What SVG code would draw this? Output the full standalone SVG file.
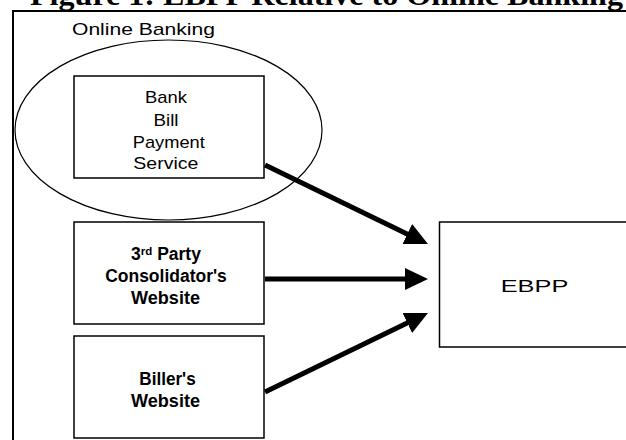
<svg xmlns="http://www.w3.org/2000/svg" width="626" height="440" viewBox="0 0 626 440">
  <style>
    .box { fill: #ffffff; stroke: #000000; stroke-width: 1.5; }
    .lbl { font-family: "Liberation Sans", Arial, sans-serif; font-size: 17px; fill: #000000; text-anchor: middle; }
    .bold { font-weight: bold; font-size: 17.5px; }
    .conn { stroke: #000000; stroke-width: 5; fill: none; }
  </style>
  <defs>
    <marker id="arrow" viewBox="0 0 23 22" markerWidth="23" markerHeight="22" markerUnits="userSpaceOnUse" refX="5" refY="11" orient="auto">
      <path d="M0,0 L23,11 L0,22 Z" fill="#000000"/>
    </marker>
  </defs>
  <rect width="626" height="440" fill="#ffffff"/>
  <text x="30" y="5" font-family="'Liberation Serif', 'Times New Roman', serif" font-weight="bold" font-size="29" textLength="593" lengthAdjust="spacingAndGlyphs">Figure 1: EBPP Relative to Online Banking</text>
  <rect x="13" y="11" width="700" height="500" fill="none" stroke="#000000" stroke-width="2"/>

  <g id="online-banking">
    <ellipse cx="168.5" cy="130" rx="153.5" ry="90" fill="none" stroke="#000000" stroke-width="1.2"/>
    <text class="lbl" x="143.5" y="35" font-size="19.5" textLength="143" lengthAdjust="spacingAndGlyphs">Online Banking</text>
  </g>

  <g id="bank-bill-payment">
    <rect class="box" x="74" y="76" width="190" height="102"/>
    <text class="lbl" x="166" y="103.3" textLength="42" lengthAdjust="spacingAndGlyphs">Bank</text>
    <text class="lbl" x="166" y="126" textLength="25" lengthAdjust="spacingAndGlyphs">Bill</text>
    <text class="lbl" x="168.8" y="147.5" textLength="72" lengthAdjust="spacingAndGlyphs">Payment</text>
    <text class="lbl" x="165.8" y="168.5" textLength="65" lengthAdjust="spacingAndGlyphs">Service</text>
  </g>

  <g id="consolidator">
    <rect class="box" x="74" y="222" width="190" height="102"/>
    <text class="lbl bold" x="166" y="260"><tspan>3</tspan><tspan font-size="11.5" dy="-5">rd</tspan><tspan dy="5"> Party</tspan></text>
    <text class="lbl bold" x="166" y="281.7" textLength="121.7" lengthAdjust="spacingAndGlyphs">Consolidator's</text>
    <text class="lbl bold" x="165.5" y="304.3" textLength="69" lengthAdjust="spacingAndGlyphs">Website</text>
  </g>

  <g id="biller">
    <rect class="box" x="74" y="336" width="190" height="102"/>
    <text class="lbl bold" x="167.5" y="385" textLength="56.4" lengthAdjust="spacingAndGlyphs">Biller's</text>
    <text class="lbl bold" x="165.5" y="406.7" textLength="69" lengthAdjust="spacingAndGlyphs">Website</text>
  </g>

  <g id="ebpp">
    <rect class="box" x="439.5" y="222" width="300" height="125"/>
    <text class="lbl" x="534.5" y="292.3" font-size="24" textLength="67.6" lengthAdjust="spacingAndGlyphs">EBPP</text>
  </g>

  <g id="connectors">
    <line class="conn" x1="265" y1="165" x2="411.8" y2="236.2" marker-end="url(#arrow)"/>
    <line class="conn" x1="265" y1="279" x2="410" y2="279" marker-end="url(#arrow)"/>
    <line class="conn" x1="265" y1="392" x2="411.8" y2="320.8" marker-end="url(#arrow)"/>
  </g>
</svg>
